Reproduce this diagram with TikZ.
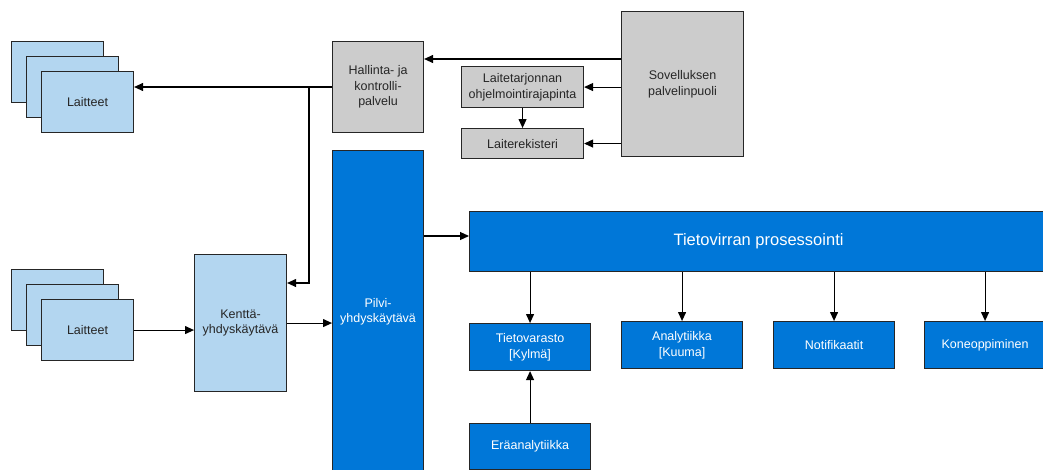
\documentclass[tikz,border=0pt]{standalone}
\usepackage{fontspec}
\setmainfont{Liberation Sans}
\usetikzlibrary{arrows.meta}
\definecolor{lightblue}{HTML}{B3D6F0}
\definecolor{darkblue}{HTML}{0077D8}
\definecolor{greybox}{HTML}{CCCCCC}
\definecolor{edge}{HTML}{262626}
\definecolor{inktext}{HTML}{262626}
\tikzset{
  box/.style={draw=edge, line width=1.1pt, anchor=north west, inner sep=2pt,
    align=center, font=\fontsize{12.5}{15.5}\selectfont, text=inktext},
  lightbox/.style={box, fill=lightblue},
  greyfill/.style={box, fill=greybox},
  darkbox/.style={box, fill=darkblue, text=white},
  arr/.style={draw=black, line width=1.1pt, -{Triangle[length=9pt,width=8pt]}},
  plain/.style={draw=black, line width=1.1pt},
}
\begin{document}
\begin{tikzpicture}[x=1pt, y=-1pt]
\useasboundingbox (0,0) rectangle (1043,469);
\clip (0,0) rectangle (1043,469);

% device stack, upper group
\node[lightbox, minimum width=92pt, minimum height=61pt] (lu3) at (11,41) {};
\node[lightbox, minimum width=92pt, minimum height=61pt] (lu2) at (26,56) {};
\node[lightbox, minimum width=92pt, minimum height=61pt] (lu1) at (41,71) {Laitteet};

% device stack, lower group
\node[lightbox, minimum width=92pt, minimum height=61pt] (ll3) at (11,269) {};
\node[lightbox, minimum width=92pt, minimum height=61pt] (ll2) at (26,284) {};
\node[lightbox, minimum width=92pt, minimum height=61pt] (ll1) at (41,299) {Laitteet};

% gateways and services
\node[lightbox, minimum width=92pt, minimum height=137pt] (kent) at (194,254) {Kenttä-\\yhdyskäytävä};
\node[greyfill, minimum width=91pt, minimum height=91pt] (hal) at (332,41) {Hallinta- ja\\kontrolli-\\palvelu};
\node[darkbox, minimum width=91pt, minimum height=322pt] (pil) at (332,150) {Pilvi-\\yhdyskäytävä};

\node[greyfill, minimum width=122pt, minimum height=145pt] (sov) at (621,11) {Sovelluksen\\palvelinpuoli};
\node[greyfill, minimum width=122pt, minimum height=41pt] (lta) at (461,66) {Laitetarjonnan\\ohjelmointirajapinta};
\node[greyfill, minimum width=122pt, minimum height=30pt] (lre) at (461,128) {Laiterekisteri};

% stream processing and its consumers
\node[darkbox, minimum width=578pt, minimum height=60pt, font=\fontsize{16.5}{19}\selectfont] (tv) at (469,211) {Tietovirran prosessointi};
\node[darkbox, minimum width=121pt, minimum height=47pt] (tvv) at (469,323) {Tietovarasto\\{[Kylmä]}};
\node[darkbox, minimum width=121pt, minimum height=47pt] (ana) at (621,321) {Analytiikka\\{[Kuuma]}};
\node[darkbox, minimum width=121pt, minimum height=47pt] (not) at (773,321) {Notifikaatit};
\node[darkbox, minimum width=121pt, minimum height=47pt] (kon) at (924,321) {Koneoppiminen};
\node[darkbox, minimum width=121pt, minimum height=46pt] (era) at (469,423) {Eräanalytiikka};

% routing helpers
\coordinate (ysh) at (0,59);
\coordinate (ycg) at (0,87);
\coordinate (jn) at (309,87);
\coordinate (ykg) at (0,283);
\coordinate (ypt) at (0,236);

% connectors
\draw[arr] (sov.west |- ysh) -- (hal.east |- ysh);
\draw[arr] (hal.west |- ycg) -- (lu1.east |- ycg);
\draw[arr] (jn) -- (jn |- ykg) -- (kent.east |- ykg);
\draw[arr] (ll1.east) -- (ll1.east -| kent.west);
\draw[arr] (kent.east) -- (kent.east -| pil.west);
\draw[arr] (pil.east |- ypt) -- (tv.west |- ypt);
\draw[arr] (lta.east -| sov.west) -- (lta.east);
\draw[arr] (lre.east -| sov.west) -- (lre.east);
\draw[arr] (lta.south) -- (lre.north);
\draw[arr] (tv.south -| tvv.north) -- (tvv.north);
\draw[arr] (tv.south -| ana.north) -- (ana.north);
\draw[arr] (tv.south -| not.north) -- (not.north);
\draw[arr] (tv.south -| kon.north) -- (kon.north);
\draw[arr] (era.north) -- (tvv.south);
\end{tikzpicture}
\end{document}
